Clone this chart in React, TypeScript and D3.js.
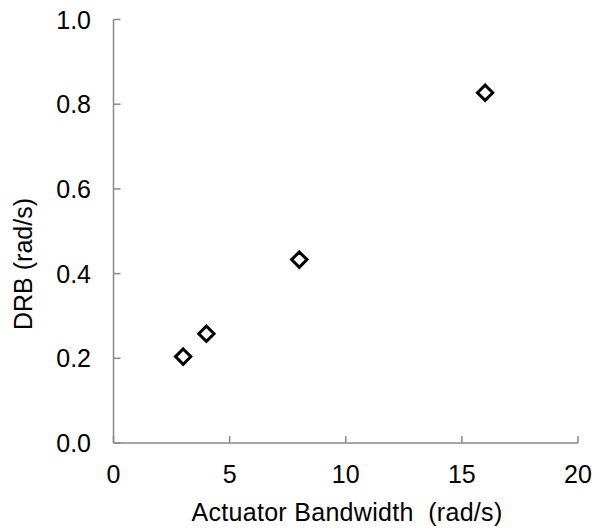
import React from "react";
import * as d3 from "d3";

const bandwidth = [3, 4, 8, 16];
const drb = [0.204, 0.258, 0.433, 0.827];
const xTicks = [0, 5, 10, 15, 20];
const yTicks = [0, 0.2, 0.4, 0.6, 0.8, 1.0];

export default function App() {
  const W = 595, H = 529;
  const x = d3.scaleLinear().domain([0, 20]).range([113.5, 578]);
  const y = d3.scaleLinear().domain([0, 1]).range([443, 19.5]);
  const font = "'Liberation Sans', Arial, sans-serif";
  const axisColor = "#898989";
  const sym = d3.symbol().type(d3.symbolDiamond2).size(150)();
  return (
    <svg width={W} height={H} style={{ position: "absolute", left: 0, top: 0 }}>
      <rect width={W} height={H} fill="#fff" />
      <line x1={x(0)} x2={x(20)} y1={y(0)} y2={y(0)} stroke={axisColor} strokeWidth={1.5} />
      <line x1={x(0)} x2={x(0)} y1={y(0)} y2={y(1)} stroke={axisColor} strokeWidth={1.5} />
      {xTicks.map((t) => (
        <g key={"x" + t}>
          <line x1={x(t)} x2={x(t)} y1={y(0)} y2={y(0) - 7} stroke={axisColor} strokeWidth={1.5} />
          <text x={x(t)} y={483} textAnchor="middle" fontFamily={font} fontSize={25} fill="#000">
            {t}
          </text>
        </g>
      ))}
      {yTicks.map((t) => (
        <g key={"y" + t}>
          <line x1={x(0)} x2={x(0) + 7} y1={y(t)} y2={y(t)} stroke={axisColor} strokeWidth={1.5} />
          <text x={91} y={y(t) + 9} textAnchor="end" fontFamily={font} fontSize={25} fill="#000">
            {t.toFixed(1)}
          </text>
        </g>
      ))}
      <text x={347} y={521} textAnchor="middle" fontFamily={font} fontSize={25} letterSpacing={0.3} fill="#000" xmlSpace="preserve">
        Actuator Bandwidth  (rad/s)
      </text>
      <text
        transform={`translate(32,${264}) rotate(-90)`}
        textAnchor="middle"
        fontFamily={font}
        fontSize={25}
        fill="#000"
      >
        DRB (rad/s)
      </text>
      {bandwidth.map((b, i) => (
        <path
          key={i}
          d={sym}
          transform={`translate(${x(b)},${y(drb[i])})`}
          fill="#fff"
          stroke="#000"
          strokeWidth={3}
        />
      ))}
    </svg>
  );
}
